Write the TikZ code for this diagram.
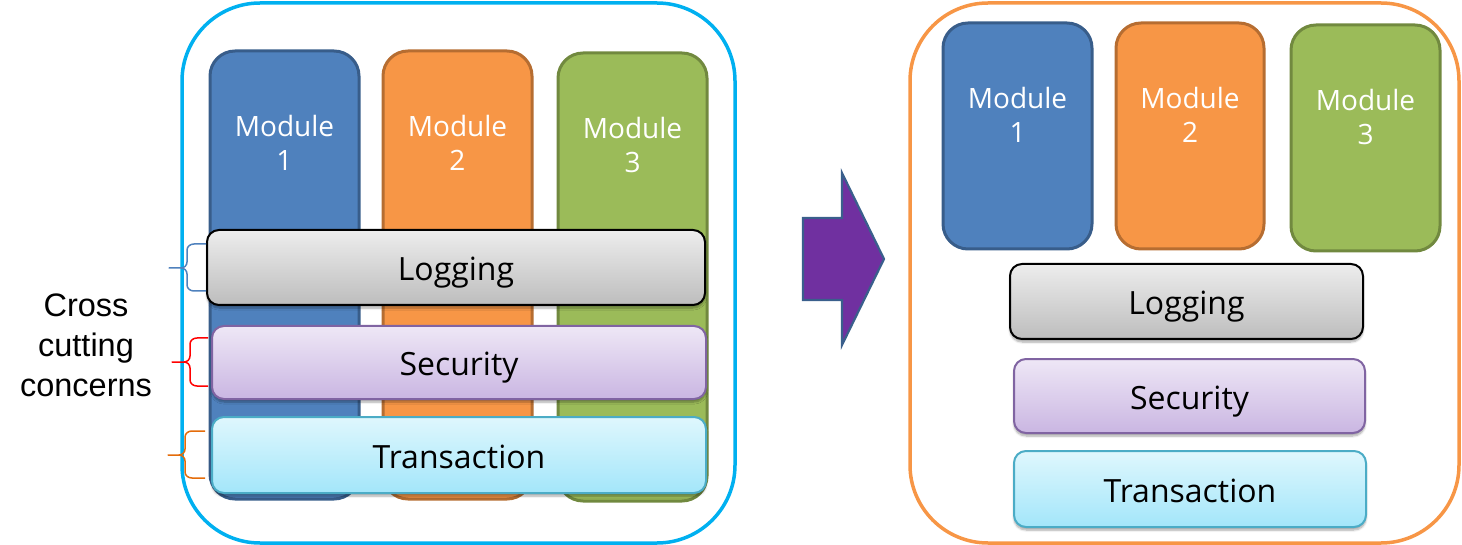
\documentclass[tikz,border=0pt]{standalone}
\usepackage{fontspec}
\setmainfont{Open Sans}
\newfontfamily\arialfont{Liberation Sans}
\usetikzlibrary{shadows.blur}
\definecolor{modblue}{HTML}{4F81BD}
\definecolor{modblueB}{HTML}{385D8A}
\definecolor{modorange}{HTML}{F79646}
\definecolor{modorangeB}{HTML}{B66D31}
\definecolor{modgreen}{HTML}{9BBB59}
\definecolor{modgreenB}{HTML}{71893F}
\definecolor{contblue}{HTML}{00B0F0}
\definecolor{contorange}{HTML}{F79646}
\definecolor{logtop}{HTML}{EDEDED}
\definecolor{logbot}{HTML}{BDBDBD}
\definecolor{sectop}{HTML}{EEE7F6}
\definecolor{secbot}{HTML}{CAB6E2}
\definecolor{secB}{HTML}{8064A2}
\definecolor{trtop}{HTML}{DFF7FD}
\definecolor{trbot}{HTML}{A3E6FA}
\definecolor{trB}{HTML}{4BACC6}
\definecolor{arrowfill}{HTML}{7030A0}
\definecolor{arrowB}{HTML}{3A5F8C}
\definecolor{braceblue}{HTML}{4F81BD}
\definecolor{bracered}{HTML}{FF0000}
\definecolor{braceorange}{HTML}{E46C0A}
\newcommand\mybrace[7]{%
  \draw[bracestyle,#1] (#2,#5) -- (#3+7,#5) to[out=180,in=90] (#3,#5+6) -- (#3,#6-6)
    to[out=270,in=0] (#3-6,#6) -- (#4,#6) -- (#3-6,#6) to[out=0,in=90] (#3,#6+6)
    -- (#3,#7-6) to[out=270,in=180] (#3+7,#7) -- (#2,#7);}
\begin{document}
\begin{tikzpicture}[x=1pt,y=-1pt,
  container/.style={draw, line width=3.5pt, rounded corners=78pt, inner sep=0pt, outer sep=0pt},
  modbox/.style={draw, line width=3pt, rounded corners=25pt, inner sep=0pt, outer sep=0pt,
    minimum width=#1},
  modtext/.style={text=white, align=center, font=\fontsize{28}{34.5}\selectfont, inner sep=0pt},
  bar/.style={draw, line width=2pt, rounded corners=12pt, inner sep=0pt, outer sep=0pt,
    font=\fontsize{32}{38}\selectfont, text height=26pt, text depth=0pt,
    blur shadow={shadow xshift=0pt, shadow yshift=-3pt, shadow blur steps=6, shadow opacity=35}},
  logbar/.style={bar, draw=black, top color=logtop, bottom color=logbot},
  secbar/.style={bar, draw=secB, top color=sectop, bottom color=secbot},
  trbar/.style={bar, draw=trB, top color=trtop, bottom color=trbot},
  bracestyle/.style={line width=1.5pt, line join=round},
  bigarrow/.style={draw=arrowB, fill=arrowfill, line width=2.2pt, line join=miter}
]
\useasboundingbox (0,0) rectangle (1462,545);

% containers
\node[container, draw=contblue, minimum width=553pt, minimum height=540pt] (lcont) at (458.5,273) {};
\node[container, draw=contorange, minimum width=549pt, minimum height=540pt] (rcont) at (1184.5,273) {};

% left modules
\node[modbox=149pt, minimum height=448pt, draw=modblueB, fill=modblue] (lm1) at (284.5,275) {};
\node[modbox=149pt, minimum height=448pt, draw=modorangeB, fill=modorange] (lm2) at (457.5,275) {};
\node[modbox=149pt, minimum height=448pt, draw=modgreenB, fill=modgreen] (lm3) at (632.5,277) {};
\node[modtext] (lt1) at ([yshift=-92pt]lm1.north) {Module\\1};
\node[modtext] (lt2) at ([yshift=-92pt]lm2.north) {Module\\2};
\node[modtext] (lt3) at ([yshift=-92pt]lm3.north) {Module\\3};

% left bars
\node[logbar, minimum width=498pt, minimum height=75pt] (llog) at (456,267.5) {Logging};
\node[secbar, minimum width=494pt, minimum height=73pt] (lsec) at (459,362.5) {Security};
\node[trbar, minimum width=494pt, minimum height=76pt] (ltr) at (459,455) {Transaction};

% braces
\mybrace{braceblue}{206}{187}{169}{244}{268}{291}
\mybrace{bracered}{208}{190}{172}{338}{362}{386}
\mybrace{braceorange}{205}{185}{168}{431}{455}{478}

% cross cutting label
\node[align=center, font=\arialfont\fontsize{32.5}{40}\selectfont, inner sep=0pt] (ccc) at (86,345.5) {Cross\\cutting\\concerns};

% arrow
\draw[bigarrow] (803,218) -- (842,218) -- (842,173) -- (884,259) -- (842,345) -- (842,300) -- (803,300) -- cycle;

% right modules
\node[modbox=149pt, minimum height=226pt, draw=modblueB, fill=modblue] (rm1) at (1017.5,136) {};
\node[modbox=148pt, minimum height=226pt, draw=modorangeB, fill=modorange] (rm2) at (1190,136) {};
\node[modbox=149pt, minimum height=226pt, draw=modgreenB, fill=modgreen] (rm3) at (1365.5,138) {};
\node[modtext] (rt1) at ([yshift=-92pt]rm1.north) {Module\\1};
\node[modtext] (rt2) at ([yshift=-92pt]rm2.north) {Module\\2};
\node[modtext] (rt3) at ([yshift=-92pt]rm3.north) {Module\\3};

% right bars
\node[logbar, minimum width=353pt, minimum height=75pt] (rlog) at (1186.5,301.5) {Logging};
\node[secbar, minimum width=351pt, minimum height=74pt] (rsec) at (1189.5,396) {Security};
\node[trbar, minimum width=352pt, minimum height=76pt] (rtr) at (1190,489) {Transaction};
\end{tikzpicture}
\end{document}
